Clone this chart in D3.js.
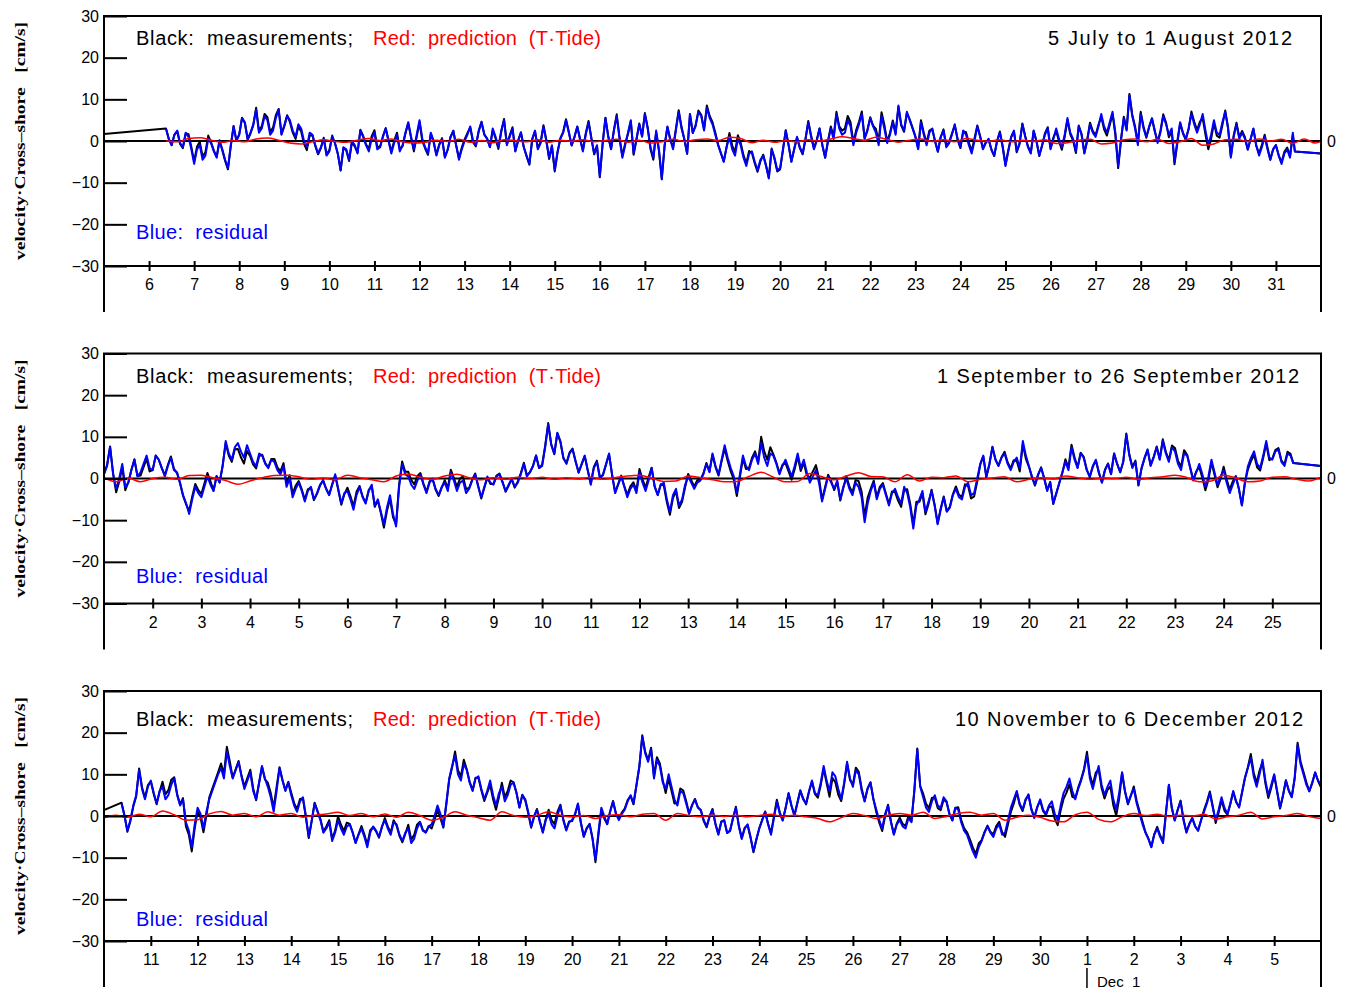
<!DOCTYPE html>
<html>
<head>
<meta charset="utf-8">
<script src="https://cdn.jsdelivr.net/npm/d3@7"></script>
<style>
  body { margin: 0; background: #fff; }
  text { white-space: pre; }
</style>
</head>
<body>
<svg id="chart" width="1345" height="993"></svg>
<script>
// three observation windows, 2012 (JS month index, first/last day of the axis)
const periodTitles = ['5 July to 1 August 2012', '1 September to 26 September 2012', '10 November to 6 December 2012'];
const periodMonths = [6, 8, 10];
const periodDays = [[5, 32], [1, 26], [10, 36]];

// day ticks and their labels (Nov 31..35 = Dec 1..5)
const tickDays = [
    [6, 7, 8, 9, 10, 11, 12, 13, 14, 15, 16, 17, 18, 19, 20, 21, 22, 23, 24, 25, 26, 27, 28, 29, 30, 31],
    [2, 3, 4, 5, 6, 7, 8, 9, 10, 11, 12, 13, 14, 15, 16, 17, 18, 19, 20, 21, 22, 23, 24, 25],
    [11, 12, 13, 14, 15, 16, 17, 18, 19, 20, 21, 22, 23, 24, 25, 26, 27, 28, 29, 30, 31, 32, 33, 34, 35]
];
const tickLabels = [
    ['6', '7', '8', '9', '10', '11', '12', '13', '14', '15', '16', '17', '18', '19', '20', '21', '22', '23', '24', '25', '26', '27', '28', '29', '30', '31'],
    ['2', '3', '4', '5', '6', '7', '8', '9', '10', '11', '12', '13', '14', '15', '16', '17', '18', '19', '20', '21', '22', '23', '24', '25'],
    ['11', '12', '13', '14', '15', '16', '17', '18', '19', '20', '21', '22', '23', '24', '25', '26', '27', '28', '29', '30', '1', '2', '3', '4', '5']
];
const yTicks = [-30, -20, -10, 0, 10, 20, 30];

// residual (blue), 90-minute samples, 16 per row (one day), first sample day of month
const residStart = [6.375, 1.0, 10.375];
const resid1 = [
    3.0, 0.5, -1.0, 1.5, 2.5, -0.5, -1.5, 2.0, 1.0, -2.0, -5.5, -2.0, -1.0, -4.5, -3.5, 0.5,
    -0.5, -2.5, -4.0, 0.0, -2.0, -4.5, -6.5, -1.0, 3.5, 0.0, 1.5, 5.5, 4.5, 0.5, 2.0, 4.0,
    7.5, 2.0, 3.0, 6.0, 5.0, 1.5, 2.5, 5.5, 7.5, 1.5, 3.5, 6.0, 5.0, 2.5, 1.0, 4.0,
    3.0, 0.0, -1.5, 2.0, 1.5, -1.0, -3.0, -1.5, 0.5, -3.5, -2.5, 1.0, -0.5, -3.0, -7.0, -1.5,
    -2.0, -4.5, 0.0, -1.0, -3.0, 2.5, 1.0, -1.0, -2.5, 0.5, 2.0, -2.0, -1.5, 1.0, 3.0, 0.0,
    -3.0, -0.5, 1.5, -2.5, -1.0, 2.0, 4.5, 1.0, -2.0, 1.5, 5.0, 0.5, -1.5, -3.0, 2.0, 0.0,
    -3.5, -1.0, 0.5, -4.0, -2.0, 1.0, 2.5, -1.0, -4.5, -2.0, 0.0, 1.5, 3.5, 0.0, -1.0, 2.5,
    4.5, 1.5, 0.5, -1.5, 3.0, 1.0, -1.5, 2.5, 5.0, -1.0, 1.0, 3.0, -2.5, 0.0, 2.0, -1.5,
    -3.5, -5.5, 0.5, 2.5, -2.0, -0.5, 3.5, 0.0, -4.0, -1.0, -7.0, -2.5, 0.5, 2.0, 5.0, 2.0,
    -1.0, 1.0, 3.5, 0.5, -2.5, 1.5, 4.5, 0.5, -3.0, -1.0, -8.5, -0.5, 5.5, 1.0, -2.0, 2.5,
    6.0, 0.5, -4.0, -1.0, 2.0, 5.0, -3.0, 0.5, 4.0, 1.0, 6.5, 3.0, -1.5, -4.0, 2.5, -2.0,
    -9.0, -1.0, 3.5, 0.5, -2.0, 2.5, 7.0, 3.0, 0.5, -3.0, 6.5, 2.0, 3.5, 7.0, 6.0, 2.5,
    8.0, 5.5, 4.0, 1.5, -1.0, -3.0, -5.0, -1.5, 1.0, -2.0, -3.5, 0.5, -1.0, -4.0, -6.0, -3.0,
    -2.5, -5.0, -7.0, -4.5, -3.5, -6.0, -9.0, -2.0, -4.0, -7.0, -6.5, -2.0, 2.5, -1.0, -5.0, -2.0,
    1.0, -1.5, -3.0, 0.5, 4.5, 1.0, -2.0, 0.0, 3.0, -1.0, -4.0, 0.0, 3.0, 0.5, 6.5, 3.0,
    1.5, 2.0, 5.0, 3.5, -1.0, 2.0, 4.0, 6.5, 0.5, 2.5, 5.5, 3.5, 2.0, -1.0, 6.0, 3.0,
    -0.5, 1.5, 4.5, 1.5, 8.5, 4.0, 2.5, 7.0, 5.0, 3.0, 1.0, -2.0, 4.5, 1.5, -1.0, 2.0,
    3.0, 0.0, -2.5, 1.0, 2.5, -1.5, -0.5, 1.5, 4.0, 0.5, -1.5, 2.5, 1.5, -1.0, -3.0, 0.0,
    3.5, 1.0, -2.0, -0.5, 0.5, -2.0, -3.5, 0.0, 2.0, -1.5, -6.0, -2.5, 1.0, 2.5, -2.5, -0.5,
    4.0, 1.0, -1.5, -3.0, 2.5, 0.0, -3.5, -1.0, 1.5, 3.0, -2.0, 0.5, 3.0, 0.5, -1.5, 1.5,
    5.5, 2.0, 0.5, -2.5, 3.5, 1.5, -3.0, 0.0, 4.0, 2.0, 1.0, 3.5, 6.5, 3.5, 2.0, 4.5,
    7.0, 2.0, -6.0, 0.5, 5.5, 2.5, 11.0, 6.0, 3.0, -1.0, 6.5, 3.0, 1.0, 3.5, 5.5, 2.5,
    -0.5, 2.0, 6.0, 4.0, 1.5, 3.0, -5.0, 0.0, 4.5, 2.0, 0.5, 3.0, 6.5, 4.0, 2.0, 4.0,
    6.5, 2.5, -1.0, 1.5, 5.0, 2.0, 1.5, 4.5, 7.0, 3.0, -4.0, 1.0, 4.0, 0.5, 2.0, 0.5,
    -2.0, 0.5, 3.0, -1.0, -3.5, -1.5, 1.0, -2.0, -4.5, -2.0, -1.0, -3.5, -5.5, -3.0, -2.0, -4.0,
    2.0
];
const resid2 = [
    1.0, 3.0, 7.5, 1.0, -2.5, 0.0, 3.5, -2.0, -1.0, 2.0, 4.5, 0.5, 1.5, 3.5, 5.5, 2.5,
    2.0, 5.5, 4.5, 2.5, 0.5, 3.0, 5.0, 2.0, 1.5, -1.0, -4.0, -6.0, -8.5, -5.0, -2.0, -3.5,
    -4.5, -2.0, 0.5, -1.5, -3.0, 0.5, -1.0, 3.0, 9.0, 6.0, 4.5, 7.5, 8.5, 6.5, 5.0, 8.0,
    6.0, 4.0, 3.0, 6.0, 5.5, 3.5, 2.5, 4.5, 4.0, 2.0, 1.0, 3.0, -2.0, 0.0, -4.5, -2.5,
    -1.0, -3.0, -5.5, -3.0, -2.0, -5.0, -3.5, -1.5, -0.5, -2.5, -4.0, -1.5, 1.0, -2.5, -6.0, -3.5,
    -3.0, -5.0, -7.5, -4.0, -2.0, -4.5, -6.0, -3.0, -1.5, -6.5, -5.0, -8.0, -11.0, -7.0, -4.0, -8.5,
    -11.5, -2.0, 3.5, 1.0, 0.5, -1.5, -2.5, -0.5, 1.0, -1.5, -3.5, -1.0, 0.0, -2.5, -4.0, -2.0,
    -1.0, -3.0, 1.5, -0.5, -3.0, -1.0, -0.5, -3.5, -2.5, -0.5, 1.0, -2.0, -4.5, -2.0, 0.5, -1.0,
    -1.5, 0.5, 1.0, -1.0, -3.0, -1.5, 0.0, -2.0, -1.0, 1.0, 3.5, 0.5, 1.5, 3.0, 5.5, 2.5,
    3.0, 7.5, 13.0, 8.0, 6.0, 11.0, 9.0, 5.0, 3.5, 6.0, 7.0, 4.0, 1.5, 3.5, 5.5, 2.0,
    -1.5, 2.5, 4.0, 0.0, 1.0, 3.5, 6.0, 1.0, -3.5, -1.5, 0.5, -2.0, -4.5, -2.5, -1.5, -3.5,
    1.5, -1.0, -3.0, -0.5, 2.5, -2.0, -4.0, -1.5, -1.0, -5.0, -8.0, -4.0, -2.5, -6.5, -5.0, -1.5,
    0.5, -1.0, -2.5, -1.0, -0.5, 1.0, 3.5, 1.5, 6.0, 3.0, 1.0, 4.5, 8.0, 5.0, 2.5, 0.5,
    -3.5, 1.0, 5.5, 3.0, 2.0, 4.5, 6.0, 3.5, 8.5, 5.0, 3.0, 6.0, 5.5, 3.5, 1.0, 3.0,
    4.5, 2.5, 0.5, 3.0, 6.0, 2.5, 4.5, 1.5, -1.0, 0.5, 2.0, -1.0, -5.5, -2.5, 0.5, -1.0,
    -2.5, -0.5, -5.0, -2.0, 0.0, -2.5, -4.0, -1.0, -2.0, -4.5, -10.5, -6.0, -3.0, -1.0, -5.0, -2.5,
    -1.5, -4.0, -6.5, -3.5, -2.5, -4.5, -6.0, -2.0, -3.5, -7.0, -12.0, -6.5, -5.0, -3.0, -8.0, -5.5,
    -3.0, -6.5, -11.0, -7.5, -4.5, -8.0, -7.0, -4.0, -2.5, -4.5, -5.0, -2.0, -1.0, -4.0, -3.5, 0.0,
    3.5, 5.5, 0.5, 3.5, 7.5, 4.5, 3.0, 5.0, 6.0, 3.5, 2.0, 4.0, 5.0, 2.5, 9.0, 5.5,
    3.0, 0.5, -1.5, 1.0, 2.5, 0.0, -3.0, -1.0, -6.0, -3.5, -1.0, 1.5, 4.0, 2.0, 7.5, 4.5,
    2.5, 6.0, 5.0, 2.0, 0.5, 3.0, 4.5, 1.5, -1.0, 2.0, 3.5, 1.0, 6.0, 3.5, 1.5, 4.0,
    10.5, 5.5, 2.5, 4.0, -1.5, 2.5, 5.0, 7.0, 3.0, 5.0, 7.5, 4.5, 9.0, 6.0, 4.0, 7.5,
    6.5, 3.5, 2.0, 6.0, 5.5, 2.5, -0.5, 1.5, 3.5, 1.0, -2.0, 0.5, 4.5, 1.5, -1.5, 0.5,
    2.0, -1.0, -3.5, -1.5, 0.5, -2.5, -6.5, -1.0, 3.0, 5.0, 6.5, 3.5, 2.5, 5.5, 9.0, 5.0,
    4.5, 6.5, 7.0, 4.0, 3.0, 6.0, 5.5
];
const resid3 = [
    3.0, 0.0, -3.5, -1.0, 2.5, 5.0, 11.0, 6.5, 4.0, 7.0,
    8.5, 5.5, 3.0, 6.0, 7.0, 4.0, 5.0, 7.5, 9.0, 5.0, 2.5, 4.0, -1.5, -3.5, -7.5, -2.0,
    2.0, 0.5, -3.0, 1.0, 4.0, 6.0, 8.0, 10.0, 11.5, 9.0, 15.5, 12.0, 9.0, 11.0, 13.0, 9.5,
    6.5, 8.5, 10.5, 6.0, 4.0, 8.0, 12.0, 9.0, 7.0, 4.5, 1.0, 6.0, 11.5, 8.5, 6.0, 8.0,
    5.0, 2.5, 1.0, 3.5, 4.5, 0.0, -5.0, -1.0, 3.0, 1.0, -1.0, -4.0, -3.0, -1.5, -6.0, -4.0,
    -1.0, -3.0, -4.5, -2.5, -2.0, -4.0, -6.5, -4.5, -3.0, -5.0, -7.5, -4.0, -2.5, -3.5, -5.0, -2.5,
    -1.0, -3.0, -4.5, -1.5, -2.0, -4.5, -6.0, -4.0, -3.0, -6.5, -5.5, -3.0, -1.5, -3.5, -4.0, -2.5,
    -2.0, 0.0, 2.5, 0.5, -2.5, 3.0, 9.0, 12.0, 14.5, 10.0, 8.5, 12.5, 11.0, 8.0, 6.0, 9.0,
    9.5, 6.5, 4.0, 6.0, 8.5, 5.0, 2.5, 5.5, 7.0, 3.5, 5.0, 7.5, 8.0, 5.5, 2.0, 5.0,
    4.0, 1.0, -2.5, 0.0, 1.5, -1.5, -4.0, -1.0, 0.5, -2.0, -3.0, 0.0, 2.5, -1.0, -3.5, -1.5,
    -1.0, 0.5, 3.0, -1.5, -5.0, -3.0, -2.0, -5.5, -10.5, -4.0, 2.0, 0.0, -2.0, 1.0, 3.5, 0.5,
    -1.0, 0.5, 1.5, 3.5, 5.0, 3.0, 7.5, 12.0, 19.0, 15.0, 13.0, 16.0, 9.0, 13.5, 12.0, 8.0,
    6.5, 10.0, 7.0, 4.0, 2.5, 6.0, 5.5, 3.0, 0.5, 2.5, 4.0, 2.0, 1.5, -1.0, -2.5, 0.0,
    1.5, -2.0, -4.5, -1.5, -1.0, -4.0, -3.5, -0.5, 2.0, -2.5, -5.5, -3.0, -2.0, -5.0, -8.5, -5.5,
    -3.0, -1.0, 1.0, -2.0, -4.5, -0.5, 3.5, 0.5, -1.0, 2.0, 5.5, 2.5, 0.0, 3.0, 6.0, 4.0,
    3.0, 6.0, 8.5, 5.5, 5.0, 8.0, 12.0, 8.5, 6.0, 10.5, 9.5, 6.5, 4.0, 8.0, 13.0, 9.0,
    7.0, 11.0, 10.0, 6.0, 3.5, 6.5, 8.0, 4.0, 1.5, -1.0, -3.0, 0.5, 2.5, -1.5, -4.5, -2.0,
    -1.0, -2.5, -3.0, -0.5, -1.5, 6.0, 16.0, 7.0, 4.5, 2.0, 1.0, 3.5, 5.0, 2.5, 2.0, 4.5,
    3.5, 0.5, -1.0, 2.0, 1.5, -1.5, -3.5, -4.5, -6.5, -8.5, -10.0, -7.5, -6.0, -4.0, -2.5, -4.0,
    -5.0, -3.0, -2.0, -4.5, -4.0, -1.0, 2.0, 4.0, 6.0, 3.0, 1.5, 4.0, 5.0, 1.5, -0.5, 2.0,
    4.0, 1.5, 0.5, 2.5, 3.5, 0.5, -1.0, 2.5, 5.5, 7.0, 9.0, 6.0, 4.0, 6.5, 8.5, 11.0,
    14.5, 9.0, 6.5, 9.5, 12.0, 7.5, 5.0, 7.0, 8.5, 4.0, 1.5, 5.5, 10.5, 6.0, 3.0, 5.0,
    6.5, 3.0, 0.5, -2.0, -4.0, -5.5, -7.5, -4.5, -3.0, -5.0, -6.5, 0.5, 7.5, 2.0, -1.0, 1.5,
    3.5, -1.0, -4.0, -2.0, -0.5, -2.5, -3.5, -1.0, 1.0, 3.0, 5.5, 2.0, -1.0, 1.5, 4.5, 2.0,
    0.5, 3.0, 6.0, 3.5, 2.0, 5.5, 9.0, 11.5, 14.0, 9.5, 7.0, 10.0, 13.5, 8.5, 5.0, 7.5,
    10.0, 6.0, 2.0, 5.0, 8.5, 6.0, 4.5, 9.0, 17.0, 12.5, 10.0, 7.5, 6.0, 8.0, 10.5, 8.5,
    7.5
];

// T_Tide prediction (red), 6-hourly
const predStart = [6.375, 1.0, 10.0];
const pred1 = [
    0.0, -0.2, 0.6, 0.8, 0.2, -0.3, 0.1, -0.2,
    0.5, 0.7, 0.2, -0.5, -0.7, -0.2, 0.3, -0.1,
    -0.3, 0.2, 0.6, 0.1, 0.5, -0.2, -0.5, -0.3,
    0.2, -0.1, 0.4, -0.3, 0.1, -0.4, 0.3, 0.1,
    -0.2, 0.3, -0.3, 0.2, -0.1, 0.3, -0.2, 0.1,
    0.4, -0.3, 0.2, -0.5, -0.2, 0.4, -0.1, 0.3,
    0.5, 0.1, 0.9, 0.6, -0.4, 0.2, -0.3, 0.1,
    -0.2, 0.3, 0.0, 0.5, 1.0, 0.6, 0.2, 0.9,
    0.4, -0.3, 0.2, 0.5, -0.1, 0.3, -0.2, 0.6,
    0.2, -0.1, 0.3, -0.2, 0.2, -0.1, 0.3, -0.6,
    -0.4, 0.2, 0.4, -0.7, -0.5, 0.3, 0.5, -0.2,
    0.4, -0.6, -0.2, 0.6, -1.0, -0.7, 0.3, 0.4,
    -0.1, 0.5, 0.0, 0.4, -0.6, 0.5, -0.5, 0.6
];
const pred2 = [
    0.2, -0.8, 0.1, -0.8, 0.0, 0.3, -0.2, 0.7, 0.8, 0.1, -0.5, -1.4,
    -0.6, 0.2, 0.7, 0.8, 0.4, -0.2, 0.1, -0.3, 0.8, 0.2, -0.3, -0.8,
    0.6, 1.1, 0.3, -0.2, 0.6, 1.0, 0.2, -0.3, 0.2, -0.2, 0.3, 0.0,
    0.3, -0.2, 0.2, -0.1, 0.3, -0.2, 0.2, 0.6, 0.8, 0.1, -0.7, -0.6,
    0.6, 0.2, -0.3, -0.8, -0.7, 0.5, 1.5, 0.3, -0.8, -0.7, 1.2, 0.4,
    -0.3, 0.6, 1.4, 0.5, 0.4, -0.8, 0.9, -0.6, 0.3, 0.2, 0.6, -0.8,
    -0.2, 0.1, 0.4, -0.8, -0.2, 0.2, -0.1, 0.6, 0.2, -0.2, 0.1, 0.0,
    0.3, -0.2, 0.2, 0.4, 0.8, 0.2, -0.8, -0.6, 0.8, 0.1, -0.8, -0.6,
    0.3, 0.4, -0.2, -0.6, 0.3
];
const pred3 = [
    -0.4, 0.2, -0.3, 0.4, -0.2, 1.2, 0.3, -1.0, -0.9, 0.5, 1.1, 0.2,
    0.6, -0.2, 1.0, 0.2, 0.6, -0.3, 0.2, 0.5, 0.9, 0.1, 0.6, -0.2,
    0.5, -0.3, 0.9, 0.1, -1.0, -0.3, 1.0, 0.2, -0.4, -1.0, 1.0, 0.1,
    -0.3, 0.2, 1.0, 0.2, -0.2, 0.1, -0.6, 0.1, 0.3, -0.2, 0.4, 0.6,
    -1.0, 0.6, 0.1, -0.2, 0.2, -0.1, 0.2, -0.2, 0.1, 0.4, -0.1, 0.2,
    -0.2, -0.6, -1.4, -0.4, 0.6, 0.1, -0.6, 0.2, 0.6, 0.2, 0.9, -0.6,
    -0.1, 0.6, 0.9, 0.2, 0.6, -1.0, -0.3, 0.2, -0.3, -1.2, -1.4, 0.3,
    0.9, -0.8, -1.4, -0.2, 0.6, 0.1, 0.4, -0.1, 0.2, 0.0, 0.4, -0.7,
    -0.2, 0.2, 0.9, -0.7, -0.2, 0.1, 0.6, -0.1, -0.6
];

// gap segments drawn by the original plot: [day, value]
const measLead = [[[5.0, 1.7]], [], [[10.0, 1.4]]];
const residTail = [[[31.42, -2.5], [32.0, -3.0]], [[25.43, 3.7], [26.0, 3.0]], []];

const residAll = [resid1, resid2, resid3];
const predAll = [pred1, pred2, pred3];
const residStep = 1.5 / 24, predStep = 6 / 24;

// layout
const plotLeft = 104, plotRight = 1321, plotH = 250, frameExtra = 46;
const panelTops = [16, 353.5, 691];
const titleBase = [29, 29.5, 35];
const residLabelBase = [223, 229.5, 235];
const rightTitleX = [1048, 937, 955];
const rightTitleW = [244, 362, 348];
const sans = '"Liberation Sans", Arial, sans-serif';

const svg = d3.select('#chart');

function toDate(m, d) {
    return new Date(Date.UTC(2012, m, 1) + (d - 1) * 864e5);
}

periodTitles.forEach(function (title, p) {
    const top = panelTops[p];
    const m = periodMonths[p];
    const g = svg.append('g').attr('class', 'panel');

    const x = d3.scaleUtc()
        .domain([toDate(m, periodDays[p][0]), toDate(m, periodDays[p][1])])
        .range([plotLeft, plotRight]);
    const y = d3.scaleLinear().domain([-30, 30]).range([top + plotH, top]);

    const clipId = 'clip' + p;
    svg.append('clipPath').attr('id', clipId)
        .append('rect')
        .attr('x', plotLeft).attr('y', top)
        .attr('width', plotRight - plotLeft).attr('height', plotH);

    const resid = residAll[p].map((v, i) => [residStart[p] + i * residStep, v]);
    const pred = predAll[p].map((v, i) => [predStart[p] + i * predStep, v]);
    // measurement = residual + prediction
    const meas = resid.map(function (d) {
        const k = Math.floor((d[0] - predStart[p]) / predStep + 1e-9);
        return [d[0], d[1] + predAll[p][k]];
    });

    const line = d3.line()
        .x(d => x(toDate(m, d[0])))
        .y(d => y(d[1]));
    const smooth = d3.line()
        .curve(d3.curveMonotoneX)
        .x(d => x(toDate(m, d[0])))
        .y(d => y(d[1]));

    const plot = g.append('g').attr('clip-path', 'url(#' + clipId + ')');

    // zero line
    plot.append('line')
        .attr('x1', plotLeft).attr('x2', plotRight)
        .attr('y1', y(0)).attr('y2', y(0))
        .attr('stroke', '#000').attr('stroke-width', 2);

    plot.append('path')
        .datum(measLead[p].concat(meas, residTail[p]))
        .attr('d', line)
        .attr('fill', 'none').attr('stroke', '#000').attr('stroke-width', 2)
        .attr('stroke-linejoin', 'round');

    plot.append('path')
        .datum(resid.concat(residTail[p]))
        .attr('d', line)
        .attr('fill', 'none').attr('stroke', '#0000ff').attr('stroke-width', 2)
        .attr('stroke-linejoin', 'round');

    plot.append('path')
        .datum(pred)
        .attr('d', smooth)
        .attr('fill', 'none').attr('stroke', '#ff0000').attr('stroke-width', 1.5);

    // frame
    g.append('path')
        .attr('d', 'M' + plotLeft + ',' + (top + plotH + frameExtra) + 'V' + top + 'H' + plotRight + 'V' + (top + plotH + frameExtra)
            + 'M' + plotLeft + ',' + (top + plotH) + 'H' + plotRight)
        .attr('fill', 'none').attr('stroke', '#000').attr('stroke-width', 2);

    // y axis
    const yAxis = g.append('g')
        .attr('transform', 'translate(' + plotLeft + ',0)')
        .call(d3.axisLeft(y).tickValues(yTicks).tickSizeInner(-23).tickSizeOuter(0).tickPadding(5));
    yAxis.select('.domain').remove();
    yAxis.selectAll('line').attr('stroke-width', 2);
    yAxis.selectAll('text').style('font-size', '16px').style('font-family', sans);

    // x axis
    const xAxis = g.append('g')
        .attr('transform', 'translate(0,' + (top + plotH) + ')')
        .call(d3.axisBottom(x)
            .tickValues(tickDays[p].map(d => toDate(m, d)))
            .tickFormat((d, i) => tickLabels[p][i])
            .tickSizeInner(5).tickSizeOuter(0).tickPadding(8));
    xAxis.select('.domain').remove();
    xAxis.selectAll('line').attr('y1', -5).attr('stroke-width', 2);
    xAxis.selectAll('text').style('font-size', '16px').style('font-family', sans);

    // right-hand zero label
    g.append('text')
        .attr('x', plotRight + 6).attr('y', y(0)).attr('dy', '0.36em')
        .style('font-family', sans).style('font-size', '16px').text('0');

    // y title
    g.append('text')
        .attr('transform', 'translate(25,' + (top + plotH / 2) + ') rotate(-90)')
        .attr('text-anchor', 'middle')
        .style('font-family', '"Liberation Serif", "DejaVu Serif", serif')
        .style('font-weight', 'bold')
        .style('font-size', '15px')
        .attr('textLength', 238).attr('lengthAdjust', 'spacingAndGlyphs')
        .text('velocity\u00b7Cross\u2013shore   [cm/s]');

    // legend texts
    const legend = [
        {x: 136, y: titleBase[p], w: 217, c: '#000', t: 'Black:  measurements;'},
        {x: 373, y: titleBase[p], w: 228, c: '#ff0000', t: 'Red:  prediction  (T\u00b7Tide)'},
        {x: rightTitleX[p], y: titleBase[p], w: rightTitleW[p], c: '#000', t: title},
        {x: 136, y: residLabelBase[p], w: 132, c: '#0000ff', t: 'Blue:  residual'}
    ];
    g.selectAll('text.legend')
        .data(legend)
        .join('text')
        .attr('class', 'legend')
        .attr('x', d => d.x).attr('y', d => top + d.y)
        .attr('fill', d => d.c)
        .attr('textLength', d => d.w).attr('lengthAdjust', 'spacing')
        .style('font-family', sans).style('font-size', '20px')
        .text(d => d.t);

    // month change marker
    if (p === 2) {
        const xd = x(toDate(m, 31));
        g.append('line')
            .attr('x1', xd).attr('x2', xd)
            .attr('y1', top + 277).attr('y2', top + 297)
            .attr('stroke', '#000').attr('stroke-width', 1.5);
        g.append('text')
            .attr('x', xd + 10).attr('y', top + 296)
            .style('font-family', sans).style('font-size', '15px')
            .text('Dec  1');
    }
});
</script>
</body>
</html>
